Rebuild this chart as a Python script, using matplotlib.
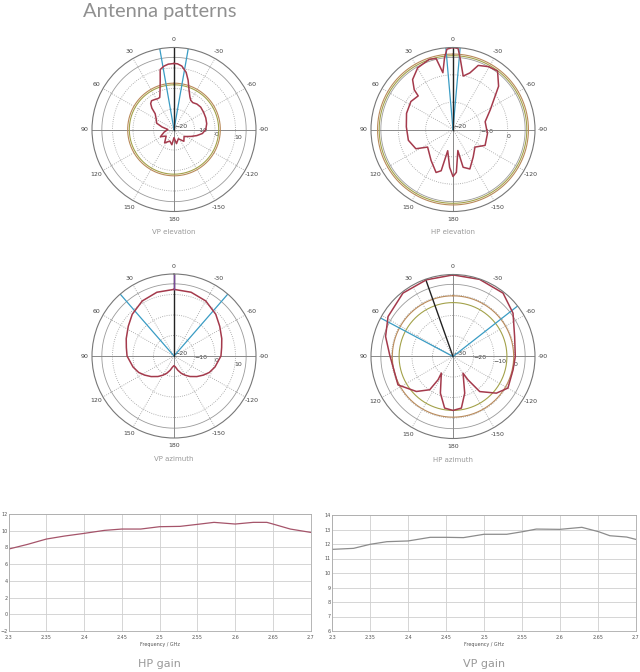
import numpy as np
import matplotlib
matplotlib.use("Agg")
import matplotlib.pyplot as plt

# --- polar pattern data (angle in degrees, counter-clockwise from top; level in dB) ---
vp_el_ang = [0, 5, 9, 13, 16, 20.5, 24, 28, 33, 38, 42, 46, 50, 60, 70, 78, 90, 105, 118, 130,
             145, 160, 172, 180, -170, -155, -140, -125, -112, -105, -98, -90, -80, -70, -60,
             -50, -42, -35, -30, -26, -21, -16, -12, -7, -3, 0]
vp_el_db = [12.2, 12.0, 11.3, 10.0, 4.4, -0.5, -2.9, -3.0, -2.6, -2.2, -3.0, -5.0, -8.0, -10.0,
            -11.0, -14.0, -17.0, -15.0, -12.5, -15.0, -12.0, -14.0, -12.5, -16.0, -13.0, -15.0,
            -12.5, -14.0, -11.0, -8.5, -6.0, -4.5, -3.8, -3.5, -3.3, -3.0, -3.3, -4.0, -3.6,
            -2.3, 0.5, 5.0, 8.5, 11.2, 12.1, 12.2]

hp_el_ang = [0, 4.3, 6.7, 10.1, 13.4, 18.6, 29.8, 39.0, 44.3, 46.0, 56.4, 70.8, 86.7, 103.6,
             117.4, 124.7, 144.8, 158.5, 164.0, 166.0, 174.9, 180, -175.5, -167.0, -165.0,
             -156.9, -143.8, -128.7, -116.3, -96.7, -76.4, -62.2, -46.5, -37.3, -29.4, -21.5,
             -16.6, -10.8, -6.0, -3.6, 0]
hp_el_db = [10.0, 9.5, 6.5, 1.1, 6.7, 7.1, 6.0, 3.5, 0.3, -2.3, -1.5, -2.0, -2.9, -3.2, -4.7,
            -8.7, -6.1, -3.1, -4.3, -12.0, -6.1, -2.8, -4.3, -12.1, -5.7, -4.3, -7.5, -9.7,
            -6.9, -7.3, -7.9, -4.6, 3.0, 6.9, 6.4, 5.2, 1.6, -0.1, 5.8, 9.7, 10.0]

vp_az_ang = [0, 15, 30, 45, 57, 70, 80, 90, 105, 115, 123, 132, 142, 150, 157, 165, 172, 180,
             -172, -165, -157, -150, -142, -132, -123, -115, -105, -90, -80, -70, -57, -45,
             -30, -15, 0]
vp_az_db = [12.5, 12.2, 11.0, 8.8, 6.6, 4.8, 3.6, 2.9, 0.7, -1.0, -2.9, -5.0, -7.3, -9.2,
            -10.8, -12.8, -14.5, -15.3, -14.5, -12.8, -10.8, -9.2, -7.3, -5.0, -2.9, -1.0,
            0.7, 2.9, 3.6, 4.8, 6.6, 8.8, 11.0, 12.2, 12.5]

hp_az_ang = [0, 19.2, 38.3, 58.4, 73.5, 88.5, 99.5, 117.3, 133.7, 145.0, 147.3, 145.0, 161.0,
             170.8, 180, -170.8, -162.3, -149.0, -147.3, -142.7, -130.2, -119.9, -102.5, -90,
             -72.0, -54.2, -38.3, -19.0, 0]
hp_az_db = [9.8, 9.6, 9.4, 7.2, 4.3, 0.9, -0.3, 0.2, -5.3, -10.2, -16.5, -20.1, -11.1, -4.5,
            -3.7, -4.5, -11.2, -20.5, -16.5, -8.5, -2.3, 0.9, 0.0, 0.4, 1.6, 6.1, 9.4, 9.8, 9.8]

# --- gain vs frequency data ---
hp_freq = [2.300, 2.325, 2.350, 2.374, 2.400, 2.427, 2.450, 2.475, 2.500, 2.527, 2.550,
           2.572, 2.600, 2.624, 2.642, 2.650, 2.673, 2.700]
hp_gain = [7.8, 8.36, 9.0, 9.36, 9.68, 10.04, 10.2, 10.2, 10.48, 10.52, 10.76, 11.0, 10.8,
           11.0, 11.0, 10.8, 10.2, 9.8]

vp_freq = [2.300, 2.328, 2.350, 2.372, 2.400, 2.429, 2.451, 2.473, 2.500, 2.530, 2.551,
           2.569, 2.600, 2.629, 2.651, 2.666, 2.688, 2.700]
vp_gain = [11.63, 11.70, 11.98, 12.16, 12.21, 12.46, 12.46, 12.44, 12.67, 12.67, 12.85,
           13.03, 13.01, 13.15, 12.85, 12.57, 12.48, 12.32]

theta_labels = ["0", "30", "60", "90", "120", "150", "180", "-150", "-120", "-90", "-60", "-30"]
freq_ticks = [2.3, 2.35, 2.4, 2.45, 2.5, 2.55, 2.6, 2.65, 2.7]
freq_labels = ["2.3", "2.35", "2.4", "2.45", "2.5", "2.55", "2.6", "2.65", "2.7"]

PATTERN = "#a43a4c"
CYAN = "#3a9cc4"
OLIVE = "#a3a24a"
TAN = "#b98a5a"

fig = plt.figure(figsize=(6.4, 6.72), dpi=100)


def polar_panel(cx, cy, ang, db, rmin, rmax, rticks, beams, peak, circles, caption):
    R = 82
    rect = [(cx - R) / 640, 1 - (cy + R) / 672, 2 * R / 640, 2 * R / 672]
    ax = fig.add_axes(rect, projection="polar")
    ax.set_theta_zero_location("N")
    ax.set_theta_direction(1)
    ax.set_ylim(rmin, rmax)
    ax.set_thetagrids(range(0, 360, 30), labels=theta_labels)
    ax.set_rticks(rticks)
    ax.set_rlabel_position(-100)
    ax.tick_params(axis="x", labelsize=4.5, labelcolor="#444444", pad=-5)
    ax.tick_params(axis="y", labelsize=4.5, labelcolor="#444444")
    ax.grid(True, color="#9a9a9a", linestyle=":", linewidth=0.6)
    ax.spines["polar"].set_color("#777777")
    ax.spines["polar"].set_linewidth(0.8)

    full = np.linspace(0, 2 * np.pi, 361)
    # inner solid ring and solid cross
    ax.plot(full, np.full_like(full, rmax - 0.12 * (rmax - rmin)), color="#9a9a9a", lw=0.6)
    for a in (0, 90):
        t = np.radians(a)
        ax.plot([t, t, t + np.pi], [rmax, rmin, rmax], color="#8a8a8a", lw=0.7)
    # reference circles
    for lev, col in circles:
        ax.plot(full, np.full_like(full, lev), color=col, lw=0.8)
    # beam markers
    for b in beams:
        ax.plot([np.radians(b)] * 2, [rmin, rmax], color=CYAN, lw=0.9)
    ax.plot([np.radians(peak)] * 2, [rmin, rmax], color="#222222", lw=1.0)
    # measured pattern
    ax.plot(np.radians(ang), db, color=PATTERN, lw=1.1, solid_joinstyle="round")
    ax.set_ylim(rmin, rmax)
    fig.text(cx / 640, 1 - (cy + 103) / 672, caption, ha="center", va="center",
             fontsize=5, color="#9a9a9a")
    return ax


polar_panel(174, 129.5, vp_el_ang, vp_el_db, -20, 20, [-20, -10, 0, 10], [10, -10], 0,
            [(1.8, OLIVE), (2.6, TAN)], "VP elevation")
polar_panel(453, 129.5, hp_el_ang, hp_el_db, -20, 10, [-20, -10, 0], [5, -5], 0,
            [(7.0, OLIVE), (7.6, TAN)], "HP elevation")
ax_vpaz = polar_panel(174, 356, vp_az_ang, vp_az_db, -20, 20, [-20, -10, 0, 10], [41, -41], 0,
                      [], "VP azimuth")
ax_vpaz.plot([0, 0], [12.5, 20], color="#7a4a9a", lw=1.0)
polar_panel(453, 356.5, hp_az_ang, hp_az_db, -30, 10, [-30, -20, -10, 0], [62, -52], 19.5,
            [(-3.7, OLIVE), (-0.4, TAN)], "HP azimuth")


def gain_panel(x0, x1, y0, y1, freq, gain, ylim, yticks, color, caption):
    ax = fig.add_axes([x0 / 640, 1 - y1 / 672, (x1 - x0) / 640, (y1 - y0) / 672])
    ax.plot(freq, gain, color=color, lw=0.9)
    ax.set_xlim(2.3, 2.7)
    ax.set_ylim(*ylim)
    ax.set_xticks(freq_ticks)
    ax.set_xticklabels(freq_labels)
    ax.set_yticks(yticks)
    ax.tick_params(labelsize=3.5, labelcolor="#555555", length=0)
    ax.tick_params(axis="x", pad=3)
    ax.tick_params(axis="y", pad=0.8)
    ax.grid(True, color="#cfcfcf", lw=0.6)
    for s in ax.spines.values():
        s.set_color("#aaaaaa")
        s.set_linewidth(0.6)
    ax.set_xlabel("Frequency / GHz", fontsize=3.5, color="#555555", labelpad=1)
    fig.text((x0 + x1) / 2 / 640, 1 - 664 / 672, caption, ha="center", va="center",
             fontsize=8, color="#999999")


gain_panel(8.5, 310.7, 514, 631, hp_freq, hp_gain, (-2, 12), range(-2, 13, 2), "#a5546a", "HP gain")
gain_panel(332.3, 635.7, 515, 631, vp_freq, vp_gain, (6, 14), range(6, 15), "#8c8c8c", "VP gain")

fig.text(83 / 640, 1 - 16.5 / 672, "Antenna patterns", fontsize=14.5, color="#909090",
         family="Lato", ha="left", va="baseline")

fig.savefig("out.png", dpi=100, facecolor="white")
